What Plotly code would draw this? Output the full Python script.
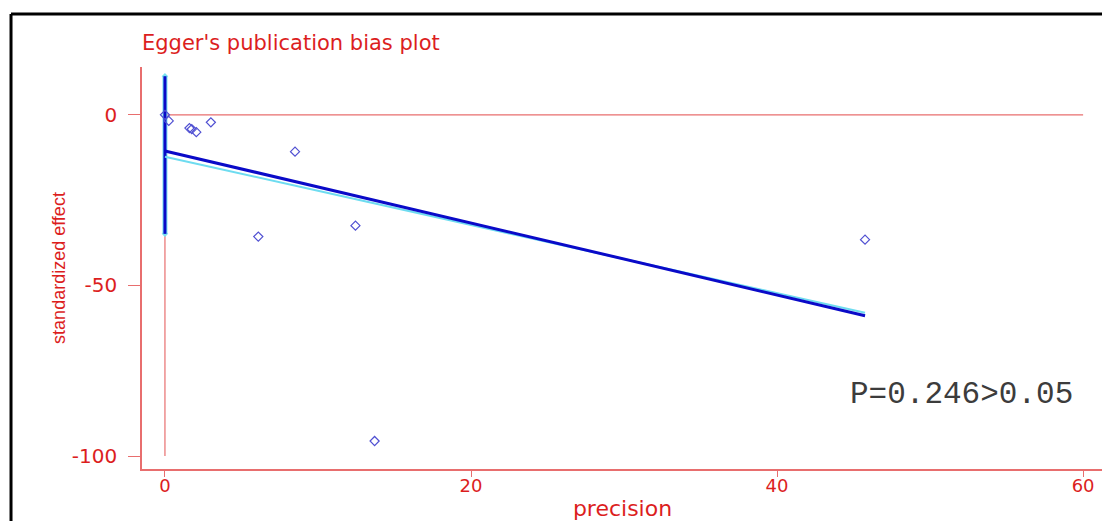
import plotly.graph_objects as go

# Study data (precision, standardized effect)
precision = [0.0, 0.25, 1.6, 1.75, 2.05, 3.0, 6.1, 8.5, 12.45, 13.7, 45.75]
std_effect = [0.0, -1.8, -3.9, -4.2, -5.1, -2.2, -35.7, -10.8, -32.5, -95.6, -36.6]

# Egger regression line (dark blue) and alternate fit (cyan)
fit_x = [0.0, 45.75]
fit_y = [-10.6, -58.9]
fit2_x = [0.0, 45.75]
fit2_y = [-12.3, -58.0]

# Intercept confidence interval at precision 0
ci_x = [0.0, 0.0]
ci_y = [-34.9, 11.3]

# Reference lines
ref_h_x = [0, 60]
ref_h_y = [0, 0]
ref_v_x = [0, 0]
ref_v_y = [-100, 0]

x_ticks = [0, 20, 40, 60]
x_labels = ["0", "20", "40", "60"]
y_ticks = [-100, -50, 0]
y_labels = ["-100", "-50", "0"]

RED_LINE = "rgb(232,110,110)"
RED_TEXT = "rgb(220,30,30)"
X_RANGE = [-1.5, 61.3]

fig = go.Figure()

fig.add_trace(go.Scatter(x=ref_h_x, y=ref_h_y, mode="lines",
                         line=dict(color=RED_LINE, width=1.2), hoverinfo="skip"))
fig.add_trace(go.Scatter(x=ref_v_x, y=ref_v_y, mode="lines",
                         line=dict(color=RED_LINE, width=1.2), hoverinfo="skip"))

# CI: cyan underlay then blue
fig.add_trace(go.Scatter(x=ci_x, y=ci_y, mode="lines+markers",
                         line=dict(color="rgb(120,225,240)", width=5),
                         marker=dict(symbol="diamond", size=5, color="rgb(120,225,240)")))
fig.add_trace(go.Scatter(x=ci_x, y=ci_y, mode="lines",
                         line=dict(color="rgb(10,10,200)", width=3)))

fig.add_trace(go.Scatter(x=fit2_x, y=fit2_y, mode="lines",
                         line=dict(color="rgb(110,220,240)", width=2)))
fig.add_trace(go.Scatter(x=fit_x, y=fit_y, mode="lines",
                         line=dict(color="rgb(10,10,200)", width=3)))

fig.add_trace(go.Scatter(x=precision, y=std_effect, mode="markers",
                         marker=dict(symbol="diamond-open", size=7,
                                     color="rgb(80,80,210)", line=dict(width=1.2))))

fig.add_annotation(text="P=0.246>0.05", x=59.5, y=-82, xref="x", yref="y",
                   xanchor="right", yanchor="middle", showarrow=False,
                   font=dict(family="Liberation Mono, Courier New, monospace",
                             size=31, color="rgb(60,60,60)"))

# Outer black frame (top and left edges visible)
fig.add_shape(type="line", xref="paper", yref="paper",
              x0=-0.1363, x1=1.2, y0=1.1318, y1=1.1318,
              line=dict(color="black", width=3))
fig.add_shape(type="line", xref="paper", yref="paper",
              x0=-0.1363, x1=-0.1363, y0=1.1318, y1=-0.2,
              line=dict(color="black", width=3))

W, H = 1102, 513
fig.update_layout(
    width=W, height=H,
    margin=dict(l=134, r=7, t=59, b=52),
    paper_bgcolor="white", plot_bgcolor="white",
    showlegend=False,
    title=dict(text="Egger's publication bias plot", x=0, xref="paper",
               xanchor="left", y=1 - 42 / H, yref="container", yanchor="bottom",
               font=dict(family="DejaVu Sans, sans-serif", size=21,
                         color=RED_TEXT)),
    # secondary x axis only draws the outside tick marks
    xaxis2=dict(overlaying="x", anchor="y", side="bottom", range=X_RANGE,
                tickvals=x_ticks, ticks="outside", ticklen=7, tickcolor=RED_LINE,
                showticklabels=False, showgrid=False, zeroline=False,
                showline=False, automargin=False),
)

fig.update_xaxes(selector=dict(anchor="y", overlaying=None))
fig.layout.xaxis.update(range=X_RANGE, tickvals=x_ticks, ticktext=x_labels,
                        automargin=False, ticks="",
                        showline=True, linecolor=RED_LINE, linewidth=1.5,
                        showgrid=False, zeroline=False,
                        tickfont=dict(family="DejaVu Sans, sans-serif", size=18,
                                      color=RED_TEXT),
                        title=dict(text="precision", standoff=6,
                                   font=dict(family="DejaVu Sans, sans-serif", size=22,
                                             color=RED_TEXT)))
fig.update_yaxes(range=[-103.8, 14], tickvals=y_ticks, ticktext=y_labels,
                 automargin=False,
                 ticks="outside", ticklen=12, tickcolor=RED_LINE, showline=True,
                 linecolor=RED_LINE, linewidth=1.5, showgrid=False, zeroline=False,
                 ticklabelstandoff=7,
                 tickfont=dict(family="DejaVu Sans, sans-serif", size=20, color=RED_TEXT),
                 title=dict(text="standardized effect", standoff=2,
                            font=dict(family="Liberation Sans, sans-serif",
                                      size=18, color=RED_TEXT)))

# invisible trace to activate the tick-only axis
fig.add_trace(go.Scatter(x=[x_ticks[0]], y=[y_ticks[-1]], xaxis="x2", mode="markers",
                         marker=dict(opacity=0), hoverinfo="skip"))

fig.write_html("out.html")
